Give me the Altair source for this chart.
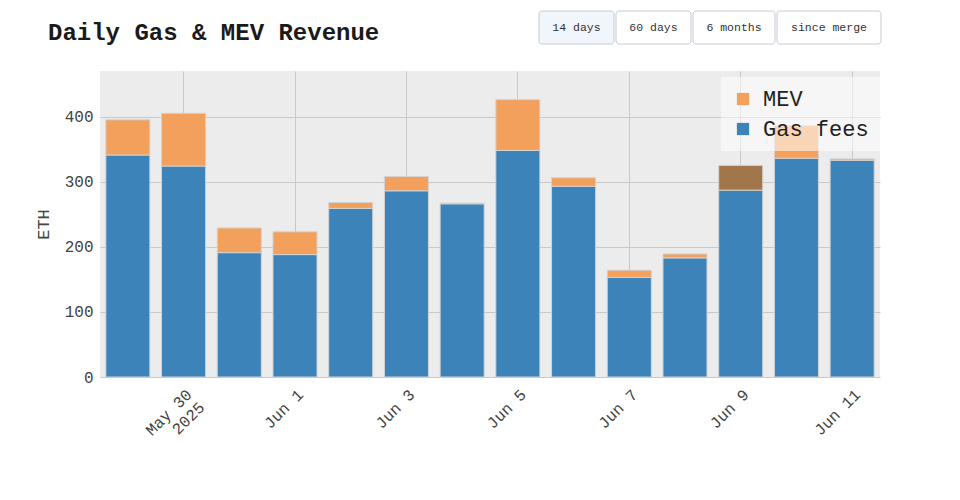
import altair as alt
import pandas as pd

# ---- data ----
dates = ["2025-05-29", "2025-05-30", "2025-05-31", "2025-06-01", "2025-06-02",
         "2025-06-03", "2025-06-04", "2025-06-05", "2025-06-06", "2025-06-07",
         "2025-06-08", "2025-06-09", "2025-06-10", "2025-06-11"]
gas_fees = [341, 324, 191, 188, 259, 286, 266, 348, 293, 153, 183, 287, 336, 333]
mev = [54, 81, 38, 35, 9, 22, 1, 78, 13, 11, 6, 38, 50, 2]
series_names = ["MEV", "Gas fees"]
tick_dates = dates[1::2]
y_ticks = [0, 100, 200, 300, 400]
highlighted_date = "2025-06-09"
button_labels = ["14 days", "60 days", "6 months", "since merge"]

rows = []
for d, g, m in zip(dates, gas_fees, mev):
    rows.append({"date": d, "series": "Gas fees", "eth": g, "rank": 0})
    rows.append({"date": d, "series": "MEV", "eth": m, "rank": 1})
df = pd.DataFrame(rows)

FONT = "Courier New, Liberation Mono, monospace"
TXT = "#444444"
GRID = "#c8c8c8"

label_expr = (
    "datum.index == 0 ? [utcFormat(toDate(datum.value), '%b %-d'), "
    "utcFormat(toDate(datum.value), '%Y')] : utcFormat(toDate(datum.value), '%b %-d')"
)

bars = alt.Chart(df).mark_bar(stroke="#d2d2d2", strokeWidth=1).encode(
    x=alt.X(
        "date:O",
        scale=alt.Scale(paddingInner=0.21, paddingOuter=0.105),
        axis=alt.Axis(
            values=tick_dates, labelExpr=label_expr, labelAngle=315,
            labelAlign="right", labelBaseline="top", labelPadding=9,
            labelFont=FONT, labelFontSize=16, labelColor=TXT,
            grid=True, gridColor=GRID, bandPosition=0.5,
            ticks=False, domain=False, title=None,
        ),
    ),
    y=alt.Y(
        "eth:Q", stack="zero",
        scale=alt.Scale(domain=[0, 470], nice=False),
        axis=alt.Axis(
            values=y_ticks, title="ETH", titleFont=FONT, titleFontSize=17,
            titleFontWeight="normal", titleColor=TXT, titlePadding=12,
            labelFont=FONT, labelFontSize=16, labelColor=TXT, labelPadding=7,
            grid=True, gridColor=GRID, ticks=False, domain=False,
        ),
    ),
    color=alt.condition(
        f"datum.date == '{highlighted_date}' && datum.series == 'MEV'",
        alt.value("#a2764b"),
        alt.Color(
            "series:N",
            scale=alt.Scale(domain=series_names, range=["#f2a05c", "#3b83b9"]),
            legend=alt.Legend(
                title=None, orient="none", legendX=621, legendY=6,
                fillColor="rgba(255,255,255,0.55)", padding=11,
                symbolType="square", symbolSize=150, symbolStrokeWidth=0,
                labelFont=FONT, labelFontSize=22, labelColor="#222222",
                labelOffset=9, rowPadding=8,
            ),
        ),
    ),
    order=alt.Order("rank:Q"),
)

# range-selector buttons (decoration)
button_x = [(439, 514), (516, 591), (593, 675), (677, 781)]
layers = [bars]
for i, (label, (x0, x1)) in enumerate(zip(button_labels, button_x)):
    src = alt.Data(values=[{"label": label}])
    layers.append(
        alt.Chart(src).mark_rect(
            fill="#f1f5fc" if i == 0 else "#ffffff", stroke="#c4ccd6",
            strokeWidth=1, cornerRadius=3,
        ).encode(x=alt.value(x0), x2=alt.value(x1), y=alt.value(-60), y2=alt.value(-27))
    )
    layers.append(
        alt.Chart(src).mark_text(font=FONT, fontSize=11.5, color="#333333", baseline="middle").encode(
            x=alt.value((x0 + x1) / 2), y=alt.value(-43.5), text="label:N"
        )
    )

chart = alt.layer(*layers).properties(
    width=780, height=306,
    padding={"left": 92, "top": 63, "right": 72, "bottom": 115},
    autosize=alt.AutoSizeParams(type="none"),
    title=alt.TitleParams(
        "Daily Gas & MEV Revenue", anchor="start", frame="group", dx=-52,
        font=FONT, fontSize=24, fontWeight="bold", color="#1a1a1a",
        baseline="alphabetic", offset=0, dy=53,
    ),
    background="#ffffff",
).configure_view(fill="#ececec", strokeWidth=0)

chart.save("out.html", embed_options={"renderer": "svg", "actions": False})
